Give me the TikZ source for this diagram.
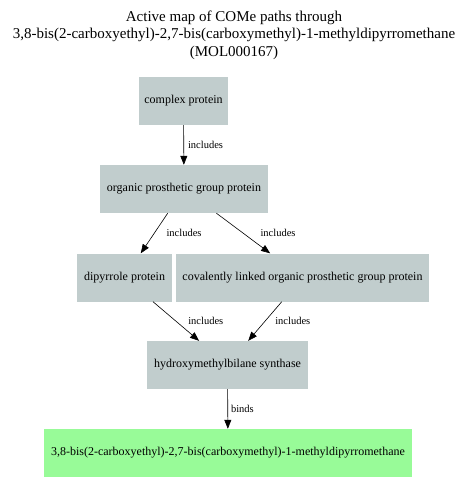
\documentclass[tikz,border=0pt]{standalone}
\usepackage{fontspec}
\setmainfont{Liberation Serif}
\usepackage{tikz}
\usetikzlibrary{arrows.meta,positioning}

\definecolor{boxgray}{HTML}{C1CDCD}
\definecolor{boxgreen}{HTML}{98FB98}

\tikzset{
  protbox/.style={rectangle,fill=boxgray,minimum height=48pt,inner sep=0pt,font=\fontsize{12}{14}\selectfont},
  molbox/.style={rectangle,fill=boxgreen,minimum height=48pt,inner sep=0pt,font=\fontsize{12}{14}\selectfont},
  rel/.style={-{Triangle[length=9pt,width=7pt]},black,line width=0.6pt},
  lbl/.style={font=\fontsize{10.5}{12}\selectfont,inner sep=0pt,anchor=west}
}

\begin{document}
\begin{tikzpicture}[x=1pt,y=-1pt]
\useasboundingbox[fill=white] (0,0) rectangle (469,494);

% Title
\node[font=\fontsize{15}{17.5}\selectfont,align=center] (title) at (234,35)
  {Active map of COMe paths through\\3,8-bis(2-carboxyethyl)-2,7-bis(carboxymethyl)-1-methyldipyrromethane\\(MOL000167)};

% Protein classes
\node[protbox,minimum width=89pt] (complex) at (183.5,101) {complex protein};
\node[protbox,minimum width=168pt] (organic) at (184,189) {organic prosthetic group protein};
\node[protbox,minimum width=95pt] (dipyrrole) at (124.5,277.5) {dipyrrole protein};
\node[protbox,minimum width=253pt] (covalent) at (302.5,277.5) {covalently linked organic prosthetic group protein};
\node[protbox,minimum width=161pt] (hmbs) at (227.5,365) {hydroxymethylbilane synthase};

% Molecule
\node[molbox,minimum width=368pt] (mol) at (228,453) {3,8-bis(2-carboxyethyl)-2,7-bis(carboxymethyl)-1-methyldipyrromethane};

% Relations
\draw[rel] (complex) -- node[lbl,xshift=4pt] {includes} (organic);
\draw[rel] (organic) -- node[lbl,xshift=12pt] {includes} (dipyrrole);
\draw[rel] (organic) -- node[lbl,xshift=17pt] {includes} (covalent);
\draw[rel] (dipyrrole) -- node[lbl,xshift=12pt] {includes} (hmbs);
\draw[rel] (covalent) -- node[lbl,xshift=10pt] {includes} (hmbs);
\draw[rel] (hmbs) -- node[lbl,xshift=3pt] {binds} (mol);
\end{tikzpicture}
\end{document}
